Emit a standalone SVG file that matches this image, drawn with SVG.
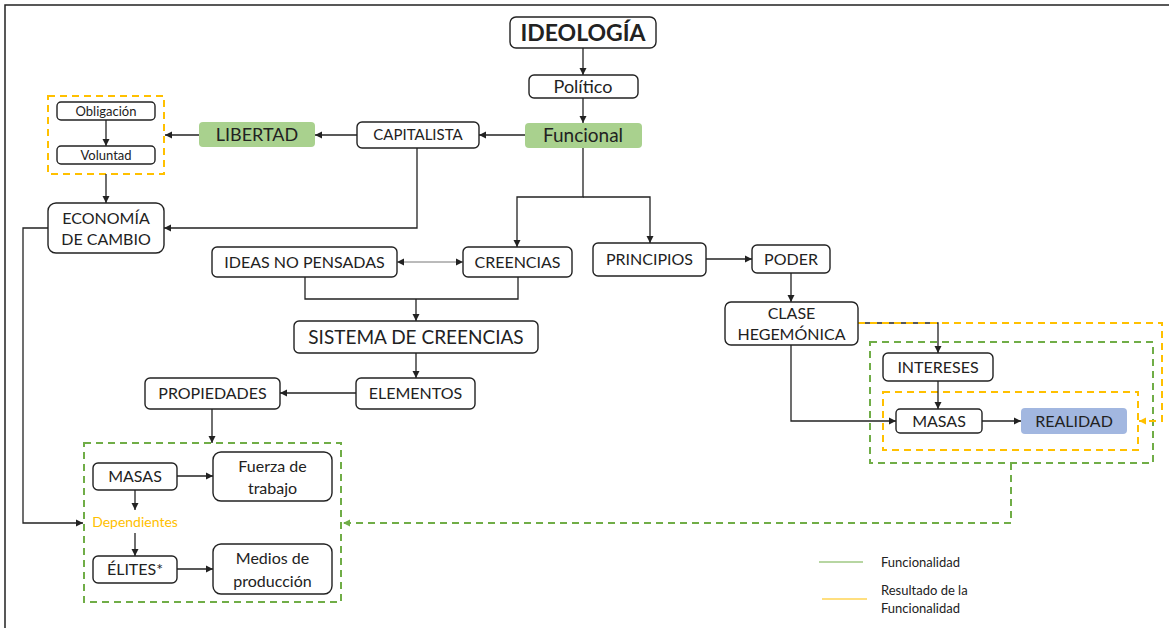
<svg xmlns="http://www.w3.org/2000/svg" width="1169" height="628" viewBox="0 0 1169 628">
<style>
.n{fill:#fff;stroke:#222;stroke-width:1.4}
.g{fill:#A9D18E;stroke:none}
.b{fill:#A2B7E0;stroke:none}
.t{font-family:Lato,"Liberation Sans",sans-serif;fill:#222;text-anchor:middle}
.c{fill:none;stroke:#222;stroke-width:1.3}
.gd{fill:none;stroke:#70AD47;stroke-width:2;stroke-dasharray:7,5}
.od{fill:none;stroke:#FFC000;stroke-width:2;stroke-dasharray:7,5}
</style>
<defs>
<marker id="a" markerWidth="8" markerHeight="8" refX="7" refY="4" orient="auto" markerUnits="userSpaceOnUse"><path d="M0,0.5 L7,4 L0,7.5 z" fill="#222"/></marker>
<marker id="as" markerWidth="8" markerHeight="8" refX="1" refY="4" orient="auto" markerUnits="userSpaceOnUse"><path d="M8,0.5 L1,4 L8,7.5 z" fill="#222"/></marker>
<marker id="ag" markerWidth="8" markerHeight="8" refX="7" refY="4" orient="auto" markerUnits="userSpaceOnUse"><path d="M0,0.5 L7,4 L0,7.5 z" fill="#70AD47"/></marker>
<marker id="ao" markerWidth="8" markerHeight="8" refX="7" refY="4" orient="auto" markerUnits="userSpaceOnUse"><path d="M0,0.5 L7,4 L0,7.5 z" fill="#FFC000"/></marker>
</defs>
<rect width="1169" height="628" fill="#fff"/>
<path d="M5,628 V5 H1169" fill="none" stroke="#222" stroke-width="1.5"/>

<g id="groups">
<rect x="48" y="96" width="116" height="78" class="od"/>
<rect x="84" y="443" width="257" height="159" class="gd"/>
<rect x="870" y="342" width="283" height="121" class="gd"/>
<rect x="883" y="392" width="255" height="58" class="od"/>
</g>

<g id="connectors">
<path class="c" d="M583,48 V75" marker-end="url(#a)"/>
<path class="c" d="M583,98 V123" marker-end="url(#a)"/>
<path class="c" d="M525,135 H479" marker-end="url(#a)"/>
<path class="c" d="M357,135 H315" marker-end="url(#a)"/>
<path class="c" d="M199,135 H165" marker-end="url(#a)"/>
<path class="c" d="M106,120 V146" marker-end="url(#a)"/>
<path class="c" d="M106,174 V203" marker-end="url(#a)"/>
<path class="c" d="M417,148 V228 H164" marker-end="url(#a)"/>
<path class="c" d="M48,228 H23 V523 H83" marker-end="url(#a)"/>
<path class="c" d="M583,148 V197 H517 V247" marker-end="url(#a)"/>
<path class="c" d="M583,197 H650 V243" marker-end="url(#a)"/>
<path d="M397,262 H463" fill="none" stroke="#777" stroke-width="1" marker-start="url(#as)" marker-end="url(#a)"/>
<path class="c" d="M305,277 V299 H518 V277"/>
<path class="c" d="M416,299 V321" marker-end="url(#a)"/>
<path class="c" d="M416,353 V378" marker-end="url(#a)"/>
<path class="c" d="M356,393 H280" marker-end="url(#a)"/>
<path class="c" d="M212,409 V443" marker-end="url(#a)"/>
<path class="c" d="M177,476 H213" marker-end="url(#a)"/>
<path class="c" d="M135,490 V510" marker-end="url(#a)"/>
<path class="c" d="M135,533 V556" marker-end="url(#a)"/>
<path class="c" d="M177,569 H213" marker-end="url(#a)"/>
<path class="c" d="M706,259 H752" marker-end="url(#a)"/>
<path class="c" d="M791,273 V302" marker-end="url(#a)"/>
<path class="c" d="M858,323 H938 V353" marker-end="url(#a)"/>
<path class="c" d="M791,345 V421 H896" marker-end="url(#a)"/>
<path class="c" d="M938,381 V409" marker-end="url(#a)"/>
<path class="c" d="M982,421 H1021" marker-end="url(#a)"/>
<path d="M858,323 H1162 V421 H1139" fill="none" stroke="#FFC000" stroke-width="2" stroke-dasharray="7,5" marker-end="url(#ao)"/>
<path d="M1011,463 V523 H343" fill="none" stroke="#70AD47" stroke-width="2" stroke-dasharray="7,5" marker-end="url(#ag)"/>
</g>

<g id="ideologia"><rect x="510" y="17" width="146" height="31" rx="6" class="n"/><text x="583" y="41" class="t" font-size="23" font-weight="bold">IDEOLOGÍA</text></g>
<g id="politico"><rect x="529" y="75" width="109" height="23" rx="5" class="n"/><text x="583" y="93" class="t" font-size="18">Político</text></g>
<g id="funcional"><rect x="525" y="123" width="117" height="25" rx="4" class="g"/><text x="583" y="142" class="t" font-size="19">Funcional</text></g>
<g id="capitalista"><rect x="357" y="122" width="122" height="26" rx="5" class="n"/><text x="418" y="140" class="t" font-size="15">CAPITALISTA</text></g>
<g id="libertad"><rect x="199" y="122" width="116" height="25" rx="4" class="g"/><text x="257" y="141" class="t" font-size="18">LIBERTAD</text></g>
<g id="obligacion"><rect x="57" y="102" width="98" height="18" rx="4" class="n"/><text x="106" y="116" class="t" font-size="13">Obligación</text></g>
<g id="voluntad"><rect x="57" y="146" width="98" height="18" rx="4" class="n"/><text x="106" y="160" class="t" font-size="13">Voluntad</text></g>
<g id="economia"><rect x="48" y="203" width="116" height="50" rx="8" class="n"/><text x="106" y="224" class="t" font-size="16">ECONOMÍA</text><text x="106" y="245" class="t" font-size="16">DE CAMBIO</text></g>
<g id="ideas"><rect x="212" y="247" width="185" height="30" rx="5" class="n"/><text x="304.5" y="268" class="t" font-size="16">IDEAS NO PENSADAS</text></g>
<g id="creencias"><rect x="463" y="247" width="109" height="30" rx="5" class="n"/><text x="517.5" y="268" class="t" font-size="16">CREENCIAS</text></g>
<g id="principios"><rect x="593" y="243" width="113" height="33" rx="5" class="n"/><text x="649.5" y="265" class="t" font-size="16">PRINCIPIOS</text></g>
<g id="poder"><rect x="752" y="245" width="78" height="28" rx="5" class="n"/><text x="791" y="265" class="t" font-size="16">PODER</text></g>
<g id="sistema"><rect x="294" y="321" width="244" height="32" rx="5" class="n"/><text x="416" y="344" class="t" font-size="19">SISTEMA DE CREENCIAS</text></g>
<g id="elementos"><rect x="356" y="378" width="119" height="31" rx="5" class="n"/><text x="415.5" y="399" class="t" font-size="16">ELEMENTOS</text></g>
<g id="propiedades"><rect x="145" y="378" width="135" height="31" rx="5" class="n"/><text x="212.5" y="399" class="t" font-size="16">PROPIEDADES</text></g>
<g id="clase"><rect x="725" y="302" width="133" height="43" rx="6" class="n"/><text x="791.5" y="319" class="t" font-size="16">CLASE</text><text x="791.5" y="340" class="t" font-size="16">HEGEMÓNICA</text></g>
<g id="intereses"><rect x="883" y="353" width="110" height="28" rx="5" class="n"/><text x="938" y="373" class="t" font-size="16">INTERESES</text></g>
<g id="masas-r"><rect x="896" y="409" width="86" height="24" rx="4" class="n"/><text x="939" y="427" class="t" font-size="16">MASAS</text></g>
<g id="realidad"><rect x="1021" y="408" width="106" height="26" rx="4" class="b"/><text x="1074" y="427" class="t" font-size="16">REALIDAD</text></g>
<g id="masas-l"><rect x="93" y="463" width="84" height="27" rx="5" class="n"/><text x="135" y="482" class="t" font-size="16">MASAS</text></g>
<g id="fuerza"><rect x="213" y="452" width="119" height="49" rx="8" class="n"/><text x="272.5" y="472" class="t" font-size="16">Fuerza de</text><text x="272.5" y="494" class="t" font-size="16">trabajo</text></g>
<g id="dependientes"><text x="135" y="527" class="t" font-size="14" style="fill:#FFC000">Dependientes</text></g>
<g id="elites"><rect x="93" y="556" width="84" height="27" rx="5" class="n"/><text x="135" y="575" class="t" font-size="16">ÉLITES*</text></g>
<g id="medios"><rect x="213" y="544" width="119" height="50" rx="8" class="n"/><text x="272.5" y="564" class="t" font-size="16">Medios de</text><text x="272.5" y="587" class="t" font-size="16">producción</text></g>

<g id="legend">
<line x1="819" y1="562" x2="863" y2="562" stroke="#70AD47" stroke-width="1.2"/>
<text x="881" y="567" font-family="Lato,'Liberation Sans',sans-serif" font-size="13" fill="#222">Funcionalidad</text>
<line x1="822" y1="599" x2="867" y2="599" stroke="#FFC000" stroke-width="1.2"/>
<text x="881" y="595" font-family="Lato,'Liberation Sans',sans-serif" font-size="13" fill="#222">Resultado de la</text>
<text x="881" y="613" font-family="Lato,'Liberation Sans',sans-serif" font-size="13" fill="#222">Funcionalidad</text>
</g>
</svg>
